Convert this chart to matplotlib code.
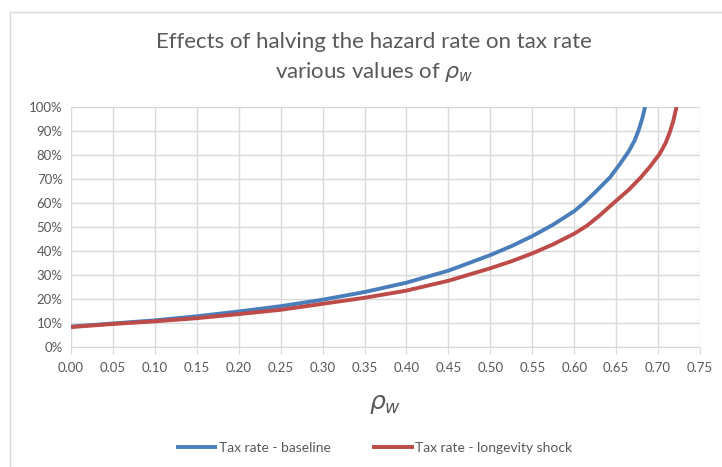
import matplotlib
matplotlib.use("Agg")
import matplotlib.pyplot as plt
from matplotlib.patches import Rectangle
from matplotlib.ticker import FuncFormatter, MultipleLocator

plt.rcParams['font.family'] = ['Lato', 'DejaVu Sans']
plt.rcParams['mathtext.fontset'] = 'dejavusans'

rho_base = [0.00, 0.05, 0.10, 0.15, 0.20, 0.25, 0.30, 0.35, 0.40, 0.45, 0.50,
            0.525, 0.55, 0.575, 0.60, 0.611, 0.625, 0.643, 0.655, 0.665,
            0.672, 0.677, 0.681, 0.6845]
tax_base = [8.5, 9.8, 11.1, 12.8, 14.8, 17.0, 19.7, 22.9, 26.8, 31.8, 38.3,
            42.0, 46.2, 51.0, 56.6, 59.8, 64.5, 70.8, 76.5, 81.5,
            86.0, 90.5, 95.0, 100.0]

rho_shock = [0.00, 0.05, 0.10, 0.15, 0.20, 0.25, 0.30, 0.35, 0.40, 0.45, 0.50,
             0.525, 0.55, 0.575, 0.60, 0.615, 0.63, 0.647, 0.665, 0.679,
             0.69, 0.702, 0.709, 0.714, 0.718, 0.722]
tax_shock = [8.3, 9.6, 10.7, 12.0, 13.7, 15.5, 18.0, 20.5, 23.5, 27.6, 32.8,
             35.7, 39.0, 42.8, 47.2, 50.5, 54.7, 60.0, 65.5, 70.5,
             75.0, 80.5, 85.0, 89.5, 94.0, 100.0]

fig = plt.figure(figsize=(7.22, 4.67), dpi=100)
fig.patches.append(Rectangle((10 / 722, -0.01), 1.0, 1 - 12 / 467 + 0.01,
                             transform=fig.transFigure, fill=False,
                             edgecolor='#d9d9d9', linewidth=1))
ax = fig.add_axes([71 / 722, 1 - 347 / 467, 629 / 722, 240 / 467])

ax.plot(rho_base, tax_base, color='#4a7ebb', lw=2.8, label='Tax rate - baseline',
        solid_capstyle='butt', solid_joinstyle='round')
ax.plot(rho_shock, tax_shock, color='#be4b48', lw=2.8,
        label='Tax rate - longevity shock', solid_capstyle='butt',
        solid_joinstyle='round')

ax.set_xlim(0, 0.75)
ax.set_ylim(0, 100)
ax.xaxis.set_major_locator(MultipleLocator(0.05))
ax.yaxis.set_major_locator(MultipleLocator(10))
ax.xaxis.set_major_formatter(FuncFormatter(lambda v, p: f"{v:.2f}"))
ax.yaxis.set_major_formatter(FuncFormatter(lambda v, p: f"{v:.0f}%"))
ax.grid(True, color='#d9d9d9', lw=1)
ax.set_axisbelow(True)
for s in ['top', 'right', 'left']:
    ax.spines[s].set_visible(False)
ax.spines['bottom'].set_color('#d9d9d9')
ax.tick_params(axis='both', colors='#595959', labelsize=9.5, length=0, pad=6)
ax.tick_params(axis='x', length=5, color='#d9d9d9', pad=6)

fig.text(0.518, 1 - 58 / 467, 'Effects of halving the hazard rate on tax rate\nvarious values of $\\rho_w$',
         ha='center', va='center', fontsize=16, color='#595959', linespacing=1.45)
fig.text(0.533, 1 - 405 / 467, '$\\rho_w$', ha='center', va='center', fontsize=18,
         color='#595959')

handles, labels = ax.get_legend_handles_labels()
fig.legend(handles, labels, loc='center', bbox_to_anchor=(0.518, 1 - 448 / 467),
           ncol=2, frameon=False, fontsize=10, labelcolor='#595959',
           handlelength=3.0, handletextpad=0.1, columnspacing=3.0)

fig.savefig('out.png', dpi=100)
